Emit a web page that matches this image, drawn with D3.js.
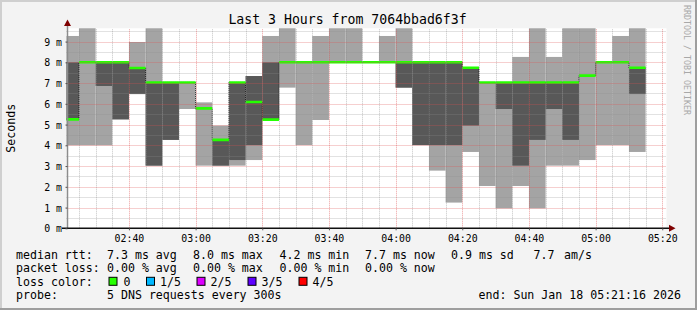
<!DOCTYPE html>
<html>
<head>
<meta charset="utf-8">
<script src="https://cdn.jsdelivr.net/npm/d3@7"></script>
<style>
  body { margin: 0; background: #f3f3f3; }
  svg { display: block; font-family: 'DejaVu Sans Mono', monospace; }
</style>
</head>
<body>
<svg id="chart" width="697" height="310"></svg>
<script>
// five pings per 5 min step, sorted (ms); steps end 02:25 .. 05:15
const ping1 = [4.0, 4.0, 4.0, 5.25, 6.47, 3.02, 4.26, 5.75, 3.02, 3.02, 3.02, 3.29, 5.24, 6.78, 4.01, 5.22, 8.0, 8.0,
  8.0, 8.0, 6.78, 4.01, 2.78, 1.24, 3.68, 2.04, 0.96, 2.04, 0.96, 3.02, 3.02, 3.29, 4.01, 4.01, 3.68];
const ping2 = [5.25, 8.0, 6.86, 5.25, 6.47, 3.02, 4.26, 7.03, 5.78, 3.02, 3.29, 4.01, 5.24, 8.0, 8.0, 8.0, 8.0, 8.0,
  8.0, 8.0, 6.78, 4.01, 4.01, 4.01, 4.95, 7.03, 5.75, 3.02, 4.26, 5.75, 4.26, 7.36, 8.0, 8.0, 6.47];
const median = [5.25, 8.0, 8.0, 8.0, 7.73, 7.03, 7.03, 7.03, 5.78, 4.26, 7.03, 6.09, 5.24, 8.0, 8.0, 8.0, 8.0, 8.0,
  8.0, 8.0, 8.0, 8.0, 8.0, 8.0, 7.74, 7.03, 7.03, 7.03, 7.03, 7.03, 7.03, 7.36, 8.0, 8.0, 7.74];
const ping4 = [8.0, 8.0, 8.0, 8.0, 7.73, 7.03, 7.03, 7.03, 5.78, 4.26, 7.03, 7.34, 8.0, 8.0, 8.0, 8.0, 8.0, 8.0,
  8.0, 8.0, 8.0, 8.0, 8.0, 8.0, 7.74, 7.03, 7.03, 7.03, 7.03, 7.03, 7.03, 7.36, 8.0, 8.0, 7.74];
const ping5 = [9.27, 9.8, 8.0, 8.0, 8.98, 9.8, 7.03, 7.03, 6.07, 4.95, 7.03, 7.34, 9.27, 9.8, 8.0, 9.27, 9.8, 9.8,
  8.0, 9.27, 9.8, 8.0, 8.0, 8.0, 7.74, 7.03, 7.03, 8.26, 9.8, 8.26, 9.8, 9.8, 8.0, 9.27, 9.8];

const yTicks = [0, 1, 2, 3, 4, 5, 6, 7, 8, 9];
const lossLabels = ['0', '1/5', '2/5', '3/5', '4/5'];
const lossColors = ['#26ff00', '#00b8ff', '#dd00ff', '#5e00ff', '#ff0000'];

const legendRows = [
  ['median rtt:', '7.3 ms avg', '8.0 ms max', '4.2 ms min', '7.7 ms now', '0.9 ms sd', '7.7', 'am/s'],
  ['packet loss:', '0.00 % avg', '0.00 % max', '0.00 % min', '0.00 % now'],
];
const legendX = [16, 107, 193, 279.5, 365, 451, 533.5, 564];

const titleText = 'Last 3 Hours from 7064bbad6f3f';
const endText = 'end: Sun Jan 18 05:21:16 2026';
const probeText = '5 DNS requests every 300s';

const tStart = new Date(Date.UTC(2026, 0, 18, 2, 21, 16));
const tEnd = new Date(Date.UTC(2026, 0, 18, 5, 21, 16));
const firstStepEnd = new Date(Date.UTC(2026, 0, 18, 2, 25, 0));

const svg = d3.select('#chart');
const W = 697; const H = 310;

const x = d3.scaleUtc().domain([tStart, tEnd]).range([66.5, 666.5]);
const y = d3.scaleLinear().domain([0, 9.64]).range([228.3, 28.3]);

const steps = median.map((m, i)=>{
  const end = d3.utcMinute.offset(firstStepEnd, 5*i);
  return {
    start: d3.utcMinute.offset(end, -5),
    end: end,
    p1: ping1[i], p2: ping2[i], p3: m, p4: ping4[i], p5: ping5[i],
  };
});

// frame
svg.append('rect').attr('width', W).attr('height', H).style('fill', '#f3f3f3');
svg.append('path').attr('d', `M1,${H}V1H${W}`).style('fill', 'none').style('stroke', '#cfcfcf').style('stroke-width', 2);
svg.append('path').attr('d', `M0,${H-1}H${W-1}V0`).style('fill', 'none').style('stroke', '#9e9e9e').style('stroke-width', 2);

svg.append('rect')
    .attr('x', x.range()[0]).attr('y', y.range()[1])
    .attr('width', x.range()[1]-x.range()[0]).attr('height', y.range()[0]-y.range()[1])
    .style('fill', '#fff');

svg.append('clipPath').attr('id', 'plotclip').append('rect')
    .attr('x', x.range()[0]).attr('y', y.range()[1])
    .attr('width', x.range()[1]-x.range()[0]).attr('height', y.range()[0]-y.range()[1]);

const plot = svg.append('g').attr('clip-path', 'url(#plotclip)');

// smoke
const smoke = [['p1', 'p5', '#a4a4a4'], ['p2', 'p4', '#585858']];
smoke.forEach((sm)=>{
  plot.append('g').selectAll('rect').data(steps).enter().append('rect')
      .attr('x', (d)=>x(d.start))
      .attr('width', (d)=>x(d.end)-x(d.start))
      .attr('y', (d)=>y(d[sm[1]]))
      .attr('height', (d)=>y(d[sm[0]])-y(d[sm[1]]))
      .style('fill', sm[2]);
});

// median step line
const medPts = steps.map((d)=>[d.start, d.p3]).concat([[steps[steps.length-1].end, median[median.length-1]]]);
plot.append('path')
    .attr('d', d3.line().x((d)=>x(d[0])).y((d)=>y(d[1])).curve(d3.curveStepAfter)(medPts))
    .style('fill', 'none').style('stroke', '#202020').style('stroke-width', 1).style('stroke-dasharray', '1,1');

plot.append('g').selectAll('line').data(steps).enter().append('line')
    .attr('x1', (d)=>x(d.start)).attr('x2', (d)=>x(d.end))
    .attr('y1', (d)=>y(d.p3)).attr('y2', (d)=>y(d.p3))
    .style('stroke', lossColors[0]).style('stroke-width', 2.6);

// grid
const grid = svg.append('g').style('stroke-width', 1).style('stroke-dasharray', '1,1').style('fill', 'none');
const xMinor = d3.utcMinute.every(5).range(tStart, tEnd).filter((t)=>t.getUTCMinutes()%20 != 0);
const xMajor = d3.utcMinute.every(20).range(tStart, d3.utcMinute.offset(tEnd, 1));
const yMinor = d3.range(0.5, 9.6, 1);

grid.selectAll('.xmin').data(xMinor).enter().append('line')
    .attr('x1', (d)=>Math.round(x(d))+0.5).attr('x2', (d)=>Math.round(x(d))+0.5)
    .attr('y1', y.range()[0]).attr('y2', y.range()[1])
    .style('stroke', 'rgba(140,140,140,0.5)');
grid.selectAll('.ymin').data(yMinor).enter().append('line')
    .attr('x1', x.range()[0]).attr('x2', x.range()[1])
    .attr('y1', (d)=>Math.round(y(d))+0.5).attr('y2', (d)=>Math.round(y(d))+0.5)
    .style('stroke', 'rgba(140,140,140,0.5)');
grid.selectAll('.xmaj').data(xMajor).enter().append('line')
    .attr('x1', (d)=>Math.round(x(d))+0.5).attr('x2', (d)=>Math.round(x(d))+0.5)
    .attr('y1', y.range()[0]).attr('y2', y.range()[1])
    .style('stroke', 'rgba(222,80,80,0.55)');
grid.selectAll('.ymaj').data(yTicks.slice(1)).enter().append('line')
    .attr('x1', x.range()[0]).attr('x2', x.range()[1])
    .attr('y1', (d)=>Math.round(y(d))+0.5).attr('y2', (d)=>Math.round(y(d))+0.5)
    .style('stroke', 'rgba(222,80,80,0.55)');

// axes
const axisX = Math.round(x.range()[0])+0.5;
svg.append('line').attr('x1', axisX).attr('x2', axisX).attr('y1', y.range()[0]).attr('y2', 24)
    .style('stroke', '#8c8c8c').style('stroke-width', 1.5);
svg.append('line').attr('x1', 62).attr('x2', 670).attr('y1', y.range()[0]).attr('y2', y.range()[0])
    .style('stroke', '#101010').style('stroke-width', 1.5);
svg.append('path').attr('d', `M${axisX-3.5},26L${axisX},19.5L${axisX+3.5},26Z`).style('fill', '#7f0000');
svg.append('path').attr('d', `M669,${y.range()[0]-3.5}L675.5,${y.range()[0]}L669,${y.range()[0]+3.5}Z`).style('fill', '#7f0000');

// y axis ticks + labels
const yAxis = svg.append('g').attr('transform', `translate(${axisX},0)`)
    .call(d3.axisLeft(y).tickValues(yTicks).tickSize(2).tickFormat((d)=>`${d} m`));
yAxis.select('.domain').remove();
yAxis.selectAll('line').style('stroke', '#555');
yAxis.selectAll('text').attr('x', -5.5).attr('dy', '0.35em')
    .style('font-family', 'DejaVu Sans Mono').style('font-size', '9.9px').style('fill', '#000');

// x axis ticks + labels
const xAxis = svg.append('g').attr('transform', `translate(0,${y.range()[0]})`)
    .call(d3.axisBottom(x).tickValues(xMajor).tickSize(2).tickFormat(d3.utcFormat('%H:%M')));
xAxis.select('.domain').remove();
xAxis.selectAll('line').style('stroke', '#555');
xAxis.selectAll('text').attr('y', 7).attr('dy', '0.71em')
    .style('font-family', 'DejaVu Sans Mono').style('font-size', '9.9px').style('fill', '#000');

// title and labels
svg.append('text').attr('x', 347.5).attr('y', 23.5).attr('text-anchor', 'middle')
    .style('font-size', '13.2px').style('fill', '#000').text(titleText);
svg.append('text').attr('transform', 'translate(15,128.3) rotate(-90)').attr('text-anchor', 'middle')
    .style('font-size', '11.6px').style('fill', '#000').text('Seconds');
svg.append('text').attr('transform', 'translate(684,5) rotate(90)').attr('text-anchor', 'start')
    .style('font-size', '8.3px').style('fill', '#a8a8a8').text('RRDTOOL / TOBI OETIKER');

// legend
const legend = svg.append('g').style('font-size', '11.6px').style('fill', '#000');
const rowY = [258.8, 272.3, 285.8, 299.3];
legendRows.forEach((row, ri)=>{
  legend.append('g').selectAll('text').data(row).enter().append('text')
      .attr('x', (d, i)=>legendX[i]).attr('y', rowY[ri])
      .style('white-space', 'pre').text((d)=>d);
});

legend.append('text').attr('x', 16).attr('y', rowY[2]).text('loss color:');
const swatchX = [108.5, 146, 196.5, 247.5, 298.5];
const swatchLabelX = [123.5, 160, 210.5, 261.5, 312.5];
const sw = legend.append('g').selectAll('g').data(lossLabels).enter().append('g');
sw.append('rect')
    .attr('x', (d, i)=>swatchX[i]+0.5).attr('y', rowY[2]-8.5)
    .attr('width', 8).attr('height', 8)
    .style('fill', (d, i)=>lossColors[i]).style('stroke', '#000').style('stroke-width', 1);
sw.append('text').attr('x', (d, i)=>swatchLabelX[i]).attr('y', rowY[2]).text((d)=>d);

legend.append('text').attr('x', 16).attr('y', rowY[3]).text('probe:');
legend.append('text').attr('x', 107).attr('y', rowY[3]).text(probeText);
legend.append('text').attr('x', 478.5).attr('y', rowY[3]).text(endText);
</script>
</body>
</html>
